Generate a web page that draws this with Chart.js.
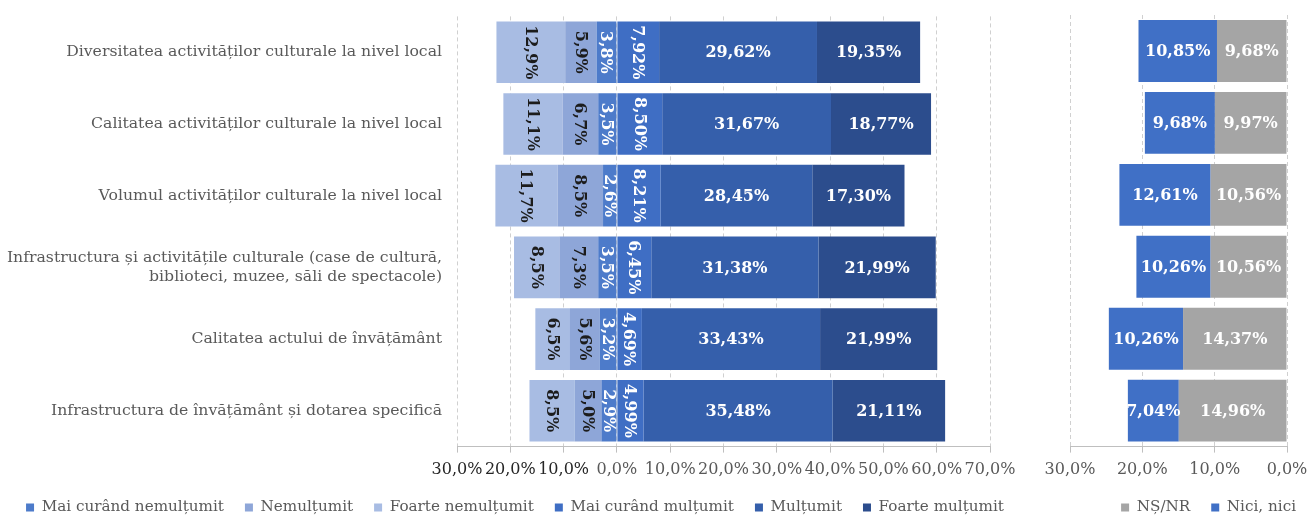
<!DOCTYPE html>
<html>
<head>
<meta charset="utf-8">
<script src="https://cdn.jsdelivr.net/npm/chart.js@4.4.0/dist/chart.umd.min.js"></script>
<style>
  body { margin: 0; background: #fff; overflow: hidden; }
  #wrap { position: relative; width: 1309px; height: 517px; }
  #leftBox { position: absolute; left: 0; top: 0; width: 1030px; height: 517px; }
  #rightBox { position: absolute; left: 1030px; top: 0; width: 279px; height: 517px; }
</style>
</head>
<body>
<div id="wrap">
  <div id="leftBox"><canvas id="satChart"></canvas></div>
  <div id="rightBox"><canvas id="neutralChart"></canvas></div>
</div>
<script>
const categories = [
  'Diversitatea activităților culturale la nivel local',
  'Calitatea activităților culturale la nivel local',
  'Volumul activităților culturale la nivel local',
  ['Infrastructura și activitățile culturale (case de cultură,', 'biblioteci, muzee, săli de spectacole)'],
  'Calitatea actului de învățământ',
  'Infrastructura de învățământ și dotarea specifică'
];

// negative side (shown to the left of 0)
const maiCurandNemultumit = [3.8, 3.5, 2.6, 3.5, 3.2, 2.9];
const nemultumit = [5.9, 6.7, 8.5, 7.3, 5.6, 5.0];
const foarteNemultumit = [12.9, 11.1, 11.7, 8.5, 6.5, 8.5];
// positive side
const maiCurandMultumit = [7.92, 8.50, 8.21, 6.45, 4.69, 4.99];
const multumit = [29.62, 31.67, 28.45, 31.38, 33.43, 35.48];
const foarteMultumit = [19.35, 18.77, 17.30, 21.99, 21.99, 21.11];
// right panel
const nsNr = [9.68, 9.97, 10.56, 10.56, 14.37, 14.96];
const niciNici = [10.85, 9.68, 12.61, 10.26, 10.26, 7.04];

const leftTicks = [-30, -20, -10, 0, 10, 20, 30, 40, 50, 60, 70];
const rightTicks = [0, 10, 20, 30];

const SERIF = '"DejaVu Serif", serif';
const GRID = '#d0d0d0';
const AXIS = '#bfbfbf';
const TEXT = '#595959';

function pct(v, dec) {
  return Math.abs(v).toFixed(dec).replace('.', ',') + '%';
}

// draws the value in the middle of each bar segment
const barLabels = {
  id: 'barLabels',
  afterDatasetsDraw(chart) {
    const ctx = chart.ctx;
    chart.data.datasets.forEach((ds, i) => {
      const meta = chart.getDatasetMeta(i);
      meta.data.forEach((bar, j) => {
        const cx = (bar.x + bar.base) / 2;
        ctx.save();
        ctx.font = 'bold 16px ' + SERIF;
        ctx.fillStyle = ds.labelColor;
        ctx.textAlign = 'center';
        ctx.textBaseline = 'middle';
        ctx.translate(cx, bar.y);
        if (ds.rotateLabel) ctx.rotate(Math.PI / 2);
        ctx.fillText(pct(ds.data[j], ds.decimals), 0, 1);
        ctx.restore();
      });
    });
  }
};

function makeSet(label, values, sign, color, labelColor, decimals, rotate) {
  return {
    label,
    data: values.map(v => v * sign),
    backgroundColor: color,
    borderWidth: 0,
    barPercentage: 0.86,
    categoryPercentage: 1,
    labelColor,
    decimals,
    rotateLabel: rotate
  };
}

// the empty title with negative padding pulls the axis down towards the legend
function legendOpts(align) {
  return {
    position: 'bottom',
    align,
    title: { display: true, text: '', font: { size: 10 }, padding: { top: 0, bottom: -21 } },
    labels: {
      boxWidth: 8,
      boxHeight: 8,
      padding: 21,
      color: TEXT,
      font: { family: SERIF, size: 15.2 }
    }
  };
}

function xAxis(min, max, tickList, padL, padR, reverse, tickColor) {
  return {
    stacked: true,
    reverse,
    min,
    max,
    afterBuildTicks: scale => { scale.ticks = tickList.map(v => ({ value: v })); },
    afterFit: scale => {
      scale.paddingLeft = padL;
      scale.paddingRight = padR;
    },
    ticks: {
      autoSkip: false,
      maxRotation: 0,
      padding: 8,
      font: { family: SERIF, size: 16 },
      color: tickColor,
      callback: v => pct(v, 1)
    },
    grid: { color: GRID, tickColor: AXIS, tickLength: 6 },
    border: { display: true, color: AXIS, dash: [4, 3] }
  };
}

new Chart(document.getElementById('satChart'), {
  type: 'bar',
  data: {
    labels: categories,
    datasets: [
      makeSet('Mai curând nemulțumit', maiCurandNemultumit, -1, '#4d7bca', '#ffffff', 1, true),
      makeSet('Nemulțumit', nemultumit, -1, '#8ea6d8', '#1c1c1c', 1, true),
      makeSet('Foarte nemulțumit', foarteNemultumit, -1, '#a8bce3', '#1c1c1c', 1, true),
      makeSet('Mai curând mulțumit', maiCurandMultumit, 1, '#3f6ec4', '#ffffff', 2, true),
      makeSet('Mulțumit', multumit, 1, '#355fab', '#ffffff', 2, false),
      makeSet('Foarte mulțumit', foarteMultumit, 1, '#2c4d8d', '#ffffff', 2, false)
    ]
  },
  options: {
    indexAxis: 'y',
    responsive: true,
    maintainAspectRatio: false,
    animation: false,
    layout: { padding: { top: 15, right: 0, left: 0, bottom: -8 } },
    plugins: {
      legend: legendOpts('center'),
      tooltip: { enabled: false }
    },
    scales: {
      x: xAxis(-30, 70, leftTicks, 0, 40, false,
        ctx => ctx.tick && ctx.tick.value < 0 ? '#262626' : TEXT),
      y: {
        stacked: true,
        afterFit: scale => { scale.width = 457; },
        ticks: {
          padding: 7,
          color: TEXT,
          font: { family: SERIF, size: 15.7 }
        },
        grid: { display: false },
        border: { display: false }
      }
    }
  },
  plugins: [barLabels]
});

new Chart(document.getElementById('neutralChart'), {
  type: 'bar',
  data: {
    labels: categories,
    datasets: [
      makeSet('NȘ/NR', nsNr, 1, '#a5a5a5', '#ffffff', 2, false),
      makeSet('Nici, nici', niciNici, 1, '#4070c6', '#ffffff', 2, false)
    ]
  },
  options: {
    indexAxis: 'y',
    responsive: true,
    maintainAspectRatio: false,
    animation: false,
    layout: { padding: { top: 15, right: -8, left: 0, bottom: -8 } },
    plugins: {
      legend: legendOpts('end'),
      tooltip: { enabled: false }
    },
    scales: {
      x: xAxis(0, 30, rightTicks, 40, 22, true, TEXT),
      y: {
        stacked: true,
        display: false
      }
    }
  },
  plugins: [barLabels]
});
</script>
</body>
</html>
